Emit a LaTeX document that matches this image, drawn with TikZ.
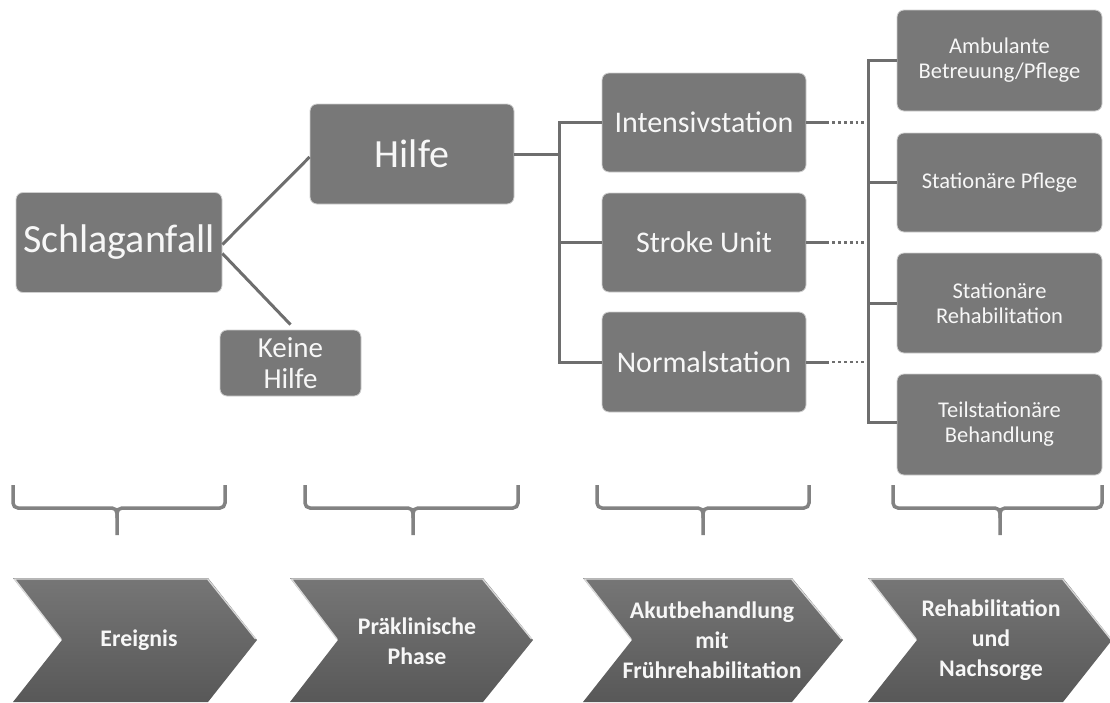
\documentclass[tikz,border=0pt]{standalone}
\usepackage{fontspec}
\setmainfont{Carlito}
\definecolor{boxgray}{HTML}{787878}
\definecolor{linegray}{HTML}{6E6E6E}
\definecolor{bordergray}{HTML}{CFCFCF}
\definecolor{bracegray}{HTML}{828282}
\definecolor{chevtop}{HTML}{767676}
\definecolor{chevbot}{HTML}{585858}
\definecolor{txtwhite}{HTML}{F7F7F7}
\begin{document}
\begin{tikzpicture}[x=1pt,y=-1pt,
  box/.style={rounded corners=7pt, fill=boxgray, draw=bordergray, line width=0.8pt,
    text=txtwhite, align=center, inner sep=0pt},
  conn/.style={draw=linegray, line width=3pt},
  dots/.style={draw=linegray, line width=2.8pt, dash pattern=on 2.8pt off 3pt},
  bracestyle/.style={draw=bracegray, line width=3.5pt, rounded corners=5pt},
  chev/.style={top color=chevtop, bottom color=chevbot},
  chevtxt/.style={text=txtwhite, align=center, font=\bfseries\fontsize{23.8}{30}\selectfont},
  fmid/.style={font=\fontsize{30}{32}\selectfont},
  fright/.style={font=\fontsize{22.5}{25}\selectfont}]
\useasboundingbox (0,0) rectangle (1110,702);
\fill[white] (0,0) rectangle (1110,702);

% boxes
\node[box, minimum width=206pt, minimum height=100pt, font=\fontsize{40}{44}\selectfont] (schlag) at (119,242.5) {Schlaganfall};
\node[box, minimum width=141pt, minimum height=66pt, font=\fontsize{29}{31}\selectfont] (keine) at (290.5,363) {Keine\\Hilfe};
\node[box, minimum width=204pt, minimum height=100pt, font=\fontsize{40}{44}\selectfont] (hilfe) at (412,154) {Hilfe};
\node[box, minimum width=204pt, minimum height=99pt, fmid] (intens) at (704,122.5) {Intensivstation};
\node[box, minimum width=204pt, minimum height=99pt, fmid] (stroke) at (704,242.5) {Stroke Unit};
\node[box, minimum width=204pt, minimum height=100pt, fmid] (normal) at (704,362) {Normalstation};
\node[box, minimum width=205pt, minimum height=101pt, fright] (amb) at (999.5,60.5) {Ambulante\\Betreuung/Pflege};
\node[box, minimum width=205pt, minimum height=99pt, fright] (statpf) at (999.5,182.5) {Station\"are Pflege};
\node[box, minimum width=205pt, minimum height=100pt, fright] (statreh) at (999.5,303) {Station\"are\\Rehabilitation};
\node[box, minimum width=205pt, minimum height=101pt, fright] (teil) at (999.5,424.5) {Teilstation\"are\\Behandlung};

% connectors left
\draw[conn] ([yshift=-2pt]schlag.east) -- ([yshift=-3pt]hilfe.west);
\draw[conn] ([yshift=-11pt]schlag.east) -- ([yshift=5pt]keine.north);
\coordinate (j1) at (560,154);
\draw[conn] (hilfe.east) -- (j1);
\draw[conn] (intens.west) -- ++(-42pt,0) |- (normal.west);
\draw[conn] (stroke.west) -- ++(-42pt,0);

% connectors right
\foreach \n in {intens,stroke,normal}{
  \draw[conn] (\n.east) -- ++(23pt,0) coordinate (\n-d);
  \draw[dots] ([xshift=3pt]\n-d) -- ++(36pt,0);
}
\draw[conn] (amb.west) -- ++(-28pt,0) |- ([yshift=2pt]teil.west);
\draw[conn] (statpf.west) -- ++(-28pt,0);
\draw[conn] (statreh.west) -- ++(-28pt,0);

% braces
\foreach \a/\c/\b in {13/117/225, 305/413/518, 597/703/809, 893/1000/1102}{
  \draw[bracestyle] (\a,485) -- (\a,508) -- (\c,508) -- (\c,535);
  \draw[bracestyle] (\b,485) -- (\b,508) -- (\c,508) -- (\c,518);
}

% chevrons
\foreach \a/\r/\t/\n in {13/208/257/62, 290/483/533/338, 583/792/843/632, 868/1063/1112/917}{
  \shade[chev] (\a,578) -- (\r,578) -- (\t,640) -- (\r,702) -- (\a,702) -- (\n,640) -- cycle;
  \draw[white!70!gray, line width=1.3pt, line join=round] (\n-1,639) -- (\a+1.5,579) -- (\r-0.5,579) -- (\t-1.5,639);
}

\node[chevtxt] (c1) at (139,640) {Ereignis};
\node[chevtxt] (c2) at (417,641) {Pr\"aklinische\\Phase};
\node[chevtxt] (c3) at (712,640) {Akutbehandlung\\mit\\Fr\"uhrehabilitation};
\node[chevtxt] (c4) at (991,640) {Rehabilitation\\und\\Nachsorge};
\end{tikzpicture}
\end{document}
